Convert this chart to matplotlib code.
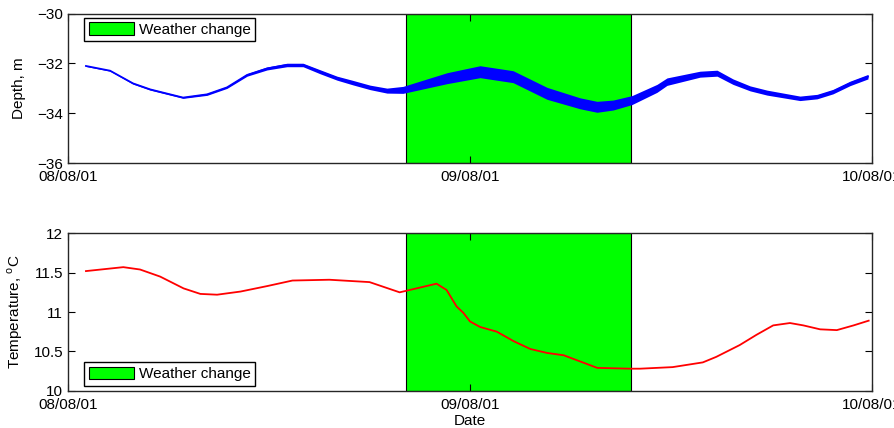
import datetime as dt
import numpy as np
import matplotlib
matplotlib.use("Agg")
import matplotlib.pyplot as plt
import matplotlib.dates as mdates

plt.rcParams["font.family"] = ["Liberation Sans", "DejaVu Sans"]
plt.rcParams["font.size"] = 11
plt.rcParams["mathtext.fontset"] = "custom"
plt.rcParams["mathtext.rm"] = "Liberation Sans"

start = dt.datetime(2001, 8, 8)

# weather change window (hours after start)
storm_start_h = 20.2
storm_end_h = 33.6

# depth record: hours, mean depth (m) and half-spread of the noise (m)
depth_hours = [1.07, 2.51, 3.88, 4.90, 6.87, 8.30, 9.49, 10.69, 11.88, 13.07,
               14.03, 15.04, 16.06, 17.01, 18.03, 19.04, 20.0, 22.63, 24.6,
               26.57, 28.6, 30.57, 31.58, 32.54, 33.67, 35.16, 35.76, 37.73,
               38.75, 39.7, 40.72, 41.73, 43.7, 44.72, 45.67, 46.69, 47.76]
depth_mean = [-32.10, -32.29, -32.80, -33.04, -33.37, -33.24, -32.96, -32.46,
              -32.20, -32.06, -32.06, -32.33, -32.59, -32.77, -32.96, -33.09,
              -33.06, -32.59, -32.33, -32.53, -33.20, -33.60, -33.74, -33.67,
              -33.47, -33.00, -32.73, -32.43, -32.39, -32.73, -33.00, -33.17,
              -33.40, -33.33, -33.13, -32.80, -32.53]
depth_spread = [0.02, 0.02, 0.03, 0.03, 0.03, 0.04, 0.04, 0.05, 0.06, 0.07,
                0.07, 0.08, 0.08, 0.09, 0.09, 0.10, 0.14, 0.22, 0.24, 0.24,
                0.24, 0.22, 0.22, 0.20, 0.18, 0.16, 0.15, 0.12, 0.12, 0.11,
                0.10, 0.10, 0.09, 0.09, 0.09, 0.09, 0.09]

# temperature record: hours, degrees C
temp_hours = [1.07, 3.3, 4.3, 5.5, 6.9, 7.9, 8.9, 10.3, 11.9, 13.4, 15.6,
              18.0, 19.8, 21.0, 22.0, 22.6, 23.2, 23.6, 24.0, 24.6, 25.6,
              26.6, 27.6, 28.6, 29.6, 30.6, 31.6, 33.55, 34.15, 36.1, 37.9,
              38.7, 40.1, 41.1, 42.1, 43.1, 43.9, 44.9, 45.9, 46.9, 47.8]
temp_vals = [11.52, 11.57, 11.54, 11.45, 11.30, 11.23, 11.22, 11.26, 11.33,
             11.40, 11.41, 11.38, 11.25, 11.31, 11.36, 11.28, 11.07, 10.99,
             10.88, 10.81, 10.75, 10.63, 10.53, 10.48, 10.45, 10.37, 10.29,
             10.28, 10.28, 10.30, 10.36, 10.43, 10.58, 10.71, 10.83, 10.86,
             10.83, 10.78, 10.77, 10.83, 10.89]


def to_dates(hours):
    return [start + dt.timedelta(hours=h) for h in hours]


def style_axis(ax):
    ax.set_xlim(start, start + dt.timedelta(days=2))
    ax.xaxis.set_major_locator(mdates.DayLocator())
    ax.xaxis.set_major_formatter(mdates.DateFormatter("%d/%m/%y"))
    ax.tick_params(axis="x", pad=5)
    ax.tick_params(direction="in", top=True, right=True, length=5,
                   width=0.8)
    for sp in ax.spines.values():
        sp.set_linewidth(1.0)
        sp.set_color("#262626")


def add_legend(ax, handle, anchor, loc):
    ax.legend(handles=[handle], loc=loc, bbox_to_anchor=anchor,
              borderaxespad=0.0, fancybox=False, edgecolor="black",
              framealpha=1, handlelength=3.0, handleheight=0.9,
              borderpad=0.3, handletextpad=0.3)


fig = plt.figure(figsize=(8.94, 4.28), dpi=100)
ax1 = fig.add_axes([0.0761, 0.619, 0.8993, 0.349])
ax2 = fig.add_axes([0.0761, 0.0871, 0.8993, 0.3678])

t_storm = to_dates([storm_start_h, storm_end_h])

# depth panel
d_dates = to_dates(depth_hours)
dm = np.array(depth_mean)
ds = np.array(depth_spread)
span1 = ax1.axvspan(t_storm[0], t_storm[1], facecolor="#00ff00",
                    edgecolor="black", linewidth=0.8, zorder=1,
                    label="Weather change")
ax1.fill_between(d_dates, dm - ds, dm + ds, color="#0000ff", linewidth=0,
                 zorder=2)
ax1.plot(d_dates, dm, color="#0000ff", linewidth=1.3, zorder=3)
ax1.set_ylim(-36, -30)
ax1.set_yticks([-36, -34, -32, -30])
ax1.set_ylabel("Depth, m", labelpad=8)
style_axis(ax1)
add_legend(ax1, span1, (16 / 804, 1 - 4 / 149), "upper left")

# temperature panel
span2 = ax2.axvspan(t_storm[0], t_storm[1], facecolor="#00ff00",
                    edgecolor="black", linewidth=0.8, zorder=1,
                    label="Weather change")
ax2.plot(to_dates(temp_hours), temp_vals, color="#ff0000", linewidth=1.3,
         zorder=3)
ax2.set_ylim(10, 12)
ax2.set_yticks([10, 10.5, 11, 11.5, 12])
ax2.set_yticklabels(["10", "10.5", "11", "11.5", "12"])
ax2.set_ylabel(r"Temperature, $^{\rm o}$C", labelpad=6)
ax2.set_xlabel("Date", labelpad=2)
style_axis(ax2)
add_legend(ax2, span2, (16 / 804, 5 / 157), "lower left")

fig.savefig("out.png", dpi=100)
